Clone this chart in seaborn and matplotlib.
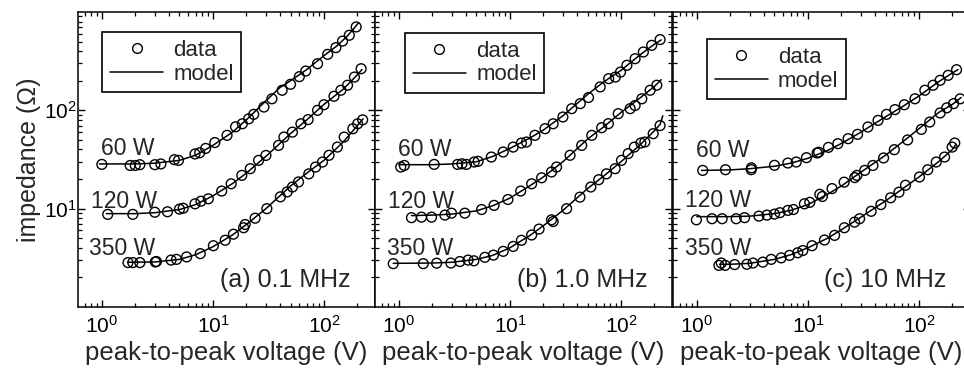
import numpy as np
import pandas as pd
import matplotlib
matplotlib.use("Agg")
import matplotlib.pyplot as plt
from matplotlib.lines import Line2D
from matplotlib.ticker import LogLocator, NullFormatter
import seaborn as sns

# ---- measured impedance (data) -------------------------------------------
# (a) 0.1 MHz
a60_v = [1.0, 1.8, 2.0, 2.2, 3.0, 3.4, 4.5, 4.9, 6.9, 7.6, 8.6, 10.4, 13.4, 16, 18.4, 21,
         23.3, 28.8, 34, 42, 50, 60, 68.5, 87.5, 108, 128, 147, 169, 195]
a60_z = [28.2, 27.5, 27.5, 28, 28, 28.5, 31.5, 31, 36, 37, 41, 47, 55.7, 68, 73, 82,
         91, 108, 131, 160, 184, 220, 251, 298, 371, 434, 506, 580, 705]
a120_v = [1.13, 1.9, 3.0, 3.9, 5.0, 5.4, 6.9, 7.8, 9.1, 12, 14.6, 18.2, 21.7, 25.8, 30,
          39, 43.6, 52, 62, 72, 87.5, 100, 123, 142, 163, 188, 216]
a120_z = [8.75, 8.75, 9.2, 9.3, 9.9, 10.1, 11.2, 11.9, 12.6, 15.1, 17.9, 21.8, 25.5, 31, 34.8,
          44, 53.5, 60, 73, 80.5, 100, 114, 139, 160, 180, 218, 265]
a350_v = [1.72, 1.9, 2.2, 3.03, 3.1, 4.2, 4.7, 5.8, 7.7, 10.1, 12.9, 15.3, 18.9, 19.5, 24,
          30.6, 40.5, 46.6, 52, 59, 73, 84, 97, 111, 132, 152, 182, 201, 223]
a350_z = [2.83, 2.83, 2.83, 2.87, 2.9, 3.0, 3.05, 3.23, 3.49, 4.2, 4.77, 5.5, 6.4, 6.9, 8.0,
          10, 13.2, 14.8, 16.6, 18.7, 22.6, 26.5, 29.8, 34.9, 42.3, 53.5, 65, 73, 80]

# (b) 1.0 MHz
b60_v = [1.04, 1.12, 2.08, 3.38, 3.7, 4.06, 4.77, 5.17, 6.8, 8.7, 10.7, 12.7, 14.1, 16.8, 20.7,
         24.5, 30, 36, 43, 51, 65, 77.5, 89, 99, 113, 134, 159, 189, 225]
b60_z = [26.5, 27.5, 28.2, 28.2, 28.6, 28.2, 29.8, 30.3, 33.5, 37.7, 42.3, 46.5, 47.6, 55.7, 65,
         73, 85.5, 104, 117, 135, 173, 210, 218, 245, 287, 335, 392, 458, 524]
b120_v = [1.3, 1.6, 1.97, 2.6, 2.98, 3.93, 5.56, 7.2, 9.6, 12.5, 15.7, 19.3, 23.7, 26.3, 34.8,
          44.3, 54.6, 67, 77, 94.5, 121, 134, 154, 183, 210]
b120_z = [8.1, 8.2, 8.2, 8.6, 9.0, 9.0, 9.8, 10.8, 12.4, 15.1, 17.9, 20.6, 23.6, 26.5, 34.9,
          44, 55.7, 66.6, 73.2, 92.5, 104, 112, 131, 160, 180]
b350_v = [0.89, 1.66, 2.19, 2.94, 3.54, 4.2, 4.74, 5.95, 7.1, 8.7, 10.7, 12.7, 15.7, 18.3, 23.7,
          24.5, 32.4, 42.7, 53.5, 63, 74, 88.6, 101, 116, 132, 151, 164, 195, 225]
b350_z = [2.76, 2.76, 2.79, 2.8, 2.9, 3.0, 2.95, 3.2, 3.37, 3.68, 4.13, 4.77, 5.4, 6.2, 7.7,
          7.4, 10, 13.1, 16.6, 19.7, 22.6, 25.5, 31, 36.3, 42.3, 46.5, 47.6, 57.9, 70]

# (c) 10 MHz
c60_v = [1.13, 1.81, 3.09, 3.1, 5.0, 6.6, 7.85, 9.7, 12.1, 12.5, 15.3, 18.6, 23, 28, 34.7,
         42.8, 51, 60.8, 73.8, 92, 113, 134, 155, 183, 218]
c60_z = [24.5, 24.9, 24.9, 26, 27.6, 29.1, 29.8, 33, 36.8, 37.5, 42, 45.8, 51.5, 57, 67.7,
         79, 91, 101.7, 114, 131, 160, 180, 202, 227, 259]
c120_v = [0.99, 1.37, 1.69, 2.26, 2.69, 3.62, 4.28, 5.0, 5.6, 6.6, 7.4, 9.3, 10.4, 12.8, 13.5,
          16.5, 21.2, 26.4, 27.6, 32.5, 38.5, 48, 60, 79, 105, 125, 155, 178, 205, 235]
c120_z = [7.7, 7.9, 7.9, 7.9, 8.1, 8.4, 8.6, 8.8, 9.1, 9.6, 9.8, 11.2, 11.6, 14.0, 13.3,
          16.0, 18.6, 20.7, 21.8, 24.5, 27.5, 32.8, 39.8, 50, 64, 76, 94, 106, 117, 131]
c350_v = [1.58, 1.66, 1.8, 2.19, 2.82, 3.2, 3.93, 4.67, 5.75, 6.83, 8.1, 9.0, 10.9, 14.1, 17.4,
          21.3, 26.3, 29.2, 37.1, 45.4, 55.6, 66, 75.6, 101, 120, 143, 170, 199, 210]
c350_z = [2.65, 2.8, 2.65, 2.7, 2.72, 2.8, 2.86, 3.05, 3.16, 3.35, 3.56, 3.75, 4.2, 4.8, 5.35,
          6.4, 7.3, 7.9, 9.4, 11, 12.9, 14.7, 17.3, 21, 24.9, 29.8, 33.5, 42.3, 46.5]

# ---- model curves --------------------------------------------------------
m_a60_v = [0.95, 2, 3, 5, 7, 10, 15, 20, 30, 40, 50, 70, 100, 130, 160, 190, 205]
m_a60_z = [28.5, 28.5, 29, 31, 35, 44, 60, 80, 125, 170, 200, 260, 360, 450, 560, 700, 780]
m_a120_v = [1.1, 2, 3, 5, 7, 10, 15, 20, 30, 50, 70, 100, 150, 200, 220]
m_a120_z = [8.9, 8.9, 9.1, 9.8, 11, 13.5, 18, 23, 34, 58, 80, 115, 165, 230, 260]
m_a350_v = [1.7, 3, 5, 7, 10, 15, 20, 30, 50, 70, 100, 150, 200, 225]
m_a350_z = [2.85, 2.87, 3.05, 3.4, 4.1, 5.4, 6.9, 10, 17, 23, 31, 48, 70, 82]

m_b60_v = [1.0, 2, 3, 5, 7, 10, 15, 20, 30, 50, 70, 100, 150, 200, 230]
m_b60_z = [28, 28, 28.5, 30, 34, 41, 52, 63, 88, 145, 195, 255, 370, 470, 520]
m_b120_v = [1.3, 2, 3, 5, 7, 10, 15, 20, 30, 50, 70, 100, 150, 200, 230]
m_b120_z = [8.5, 8.6, 8.8, 9.5, 10.7, 12.8, 17, 21, 30, 51, 68, 95, 135, 175, 205]
m_b350_v = [0.89, 2, 3, 5, 7, 10, 15, 20, 30, 50, 70, 100, 150, 200, 225, 238]
m_b350_z = [2.78, 2.8, 2.85, 3.05, 3.35, 4.0, 5.3, 6.7, 9.6, 16, 21.5, 30, 45, 62, 72, 88]

m_c60_v = [1.1, 2, 3, 5, 7, 10, 15, 20, 30, 50, 70, 100, 150, 200, 225]
m_c60_z = [24.5, 24.8, 25.5, 27, 29, 32.5, 39, 46, 60, 86, 108, 140, 195, 240, 260]
m_c120_v = [1.0, 2, 3, 5, 7, 10, 15, 20, 30, 50, 70, 100, 150, 200, 240]
m_c120_z = [8.3, 8.3, 8.4, 8.9, 9.6, 11, 14, 17, 23.5, 35, 47, 65, 95, 115, 135]
m_c350_v = [1.6, 2, 3, 5, 7, 10, 15, 20, 30, 50, 70, 100, 150, 200, 215]
m_c350_z = [2.72, 2.72, 2.78, 3.05, 3.4, 4.0, 5.0, 6.1, 8.2, 12, 15.7, 21, 30, 40, 45]

powers = ["60 W", "120 W", "350 W"]
panel_titles = ["(a) 0.1 MHz", "(b) 1.0 MHz", "(c) 10 MHz"]

data_sets = [
    [(a60_v, a60_z), (a120_v, a120_z), (a350_v, a350_z)],
    [(b60_v, b60_z), (b120_v, b120_z), (b350_v, b350_z)],
    [(c60_v, c60_z), (c120_v, c120_z), (c350_v, c350_z)],
]
model_sets = [
    [(m_a60_v, m_a60_z), (m_a120_v, m_a120_z), (m_a350_v, m_a350_z)],
    [(m_b60_v, m_b60_z), (m_b120_v, m_b120_z), (m_b350_v, m_b350_z)],
    [(m_c60_v, m_c60_z), (m_c120_v, m_c120_z), (m_c350_v, m_c350_z)],
]


def long_frame(sets):
    rows = []
    for p, (v, z) in zip(powers, sets):
        for vi, zi in zip(v, z):
            rows.append({"power": p, "V": vi, "Z": zi})
    return pd.DataFrame(rows)


sns.set_theme(style="ticks")
plt.rcParams["font.family"] = ["Liberation Sans", "DejaVu Sans"]
plt.rcParams["mathtext.fontset"] = "custom"
plt.rcParams["mathtext.rm"] = "Liberation Sans"
plt.rcParams["axes.linewidth"] = 1.1

fig = plt.figure(figsize=(9.64, 3.73), dpi=100)
W, H = 964.0, 373.0
ax_w, ax_h = 297 / W, 295 / H
bottom = 66 / H
lefts = [78 / W, 375 / W, 673 / W]

# label positions inside each panel (axes fraction): left x, baseline y
label_pos = [
    [(0.078, 0.515), (0.043, 0.336), (0.036, 0.176)],
    [(0.077, 0.512), (0.044, 0.336), (0.040, 0.176)],
    [(0.077, 0.508), (0.040, 0.340), (0.040, 0.176)],
]
legend_anchor = [(0.081, 0.932), (0.101, 0.929), (0.114, 0.908)]

for i in range(3):
    ax = fig.add_axes([lefts[i], bottom, ax_w, ax_h])
    dfd = long_frame(data_sets[i])
    dfm = long_frame(model_sets[i])
    sns.lineplot(data=dfm, x="V", y="Z", units="power", estimator=None, sort=False,
                 color="black", linewidth=1.1, ax=ax, legend=False)
    sns.scatterplot(data=dfd, x="V", y="Z", marker="o", s=50, facecolor="none",
                    edgecolor="black", linewidth=1.0, ax=ax, legend=False, zorder=3)
    ax.set_xscale("log")
    ax.set_yscale("log")
    ax.set_xlim(0.61, 288)
    ax.set_ylim(1, 1000)
    ax.set_xticks([1, 10, 100])
    ax.set_yticks([10, 100])
    ax.xaxis.set_minor_locator(LogLocator(base=10, subs=np.arange(2, 10), numticks=20))
    ax.yaxis.set_minor_locator(LogLocator(base=10, subs=np.arange(2, 10), numticks=20))
    ax.xaxis.set_minor_formatter(NullFormatter())
    ax.yaxis.set_minor_formatter(NullFormatter())
    ax.tick_params(which="both", direction="in", top=True, right=True, colors="black",
                   labelsize=15)
    ax.tick_params(which="major", length=5, width=1.0, pad=6)
    ax.tick_params(which="minor", length=3, width=0.9)
    ax.tick_params(axis="y", which="major", pad=1)
    for s in ax.spines.values():
        s.set_color("black")
        s.set_linewidth(1.1)
    ax.set_xlabel("peak-to-peak voltage (V)", fontsize=18.5, labelpad=3)
    if i == 0:
        ax.set_ylabel("impedance (Ω)", fontsize=18, labelpad=2)
    else:
        ax.set_ylabel("")
        ax.tick_params(axis="y", labelleft=False)

    for p, (lx, ly) in zip(powers, label_pos[i]):
        ax.text(lx, ly, p, transform=ax.transAxes, fontsize=16.5, ha="left", va="baseline")
    ax.text(0.919, 0.069, panel_titles[i], transform=ax.transAxes, fontsize=18,
            ha="right", va="baseline")

    handles = [
        Line2D([], [], marker="o", linestyle="none", markerfacecolor="none",
               markeredgecolor="black", markersize=7, markeredgewidth=1.0),
        Line2D([], [], color="black", linewidth=1.1),
    ]
    leg = ax.legend(handles, ["data", "model"], loc="upper left",
                    bbox_to_anchor=legend_anchor[i], fontsize=16, frameon=True,
                    fancybox=False, framealpha=1, edgecolor="black",
                    handlelength=2.4, handletextpad=0.45, borderpad=0.35,
                    labelspacing=0.12, borderaxespad=0)
    leg.get_frame().set_linewidth(1.2)

fig.savefig("out.png", dpi=100)
